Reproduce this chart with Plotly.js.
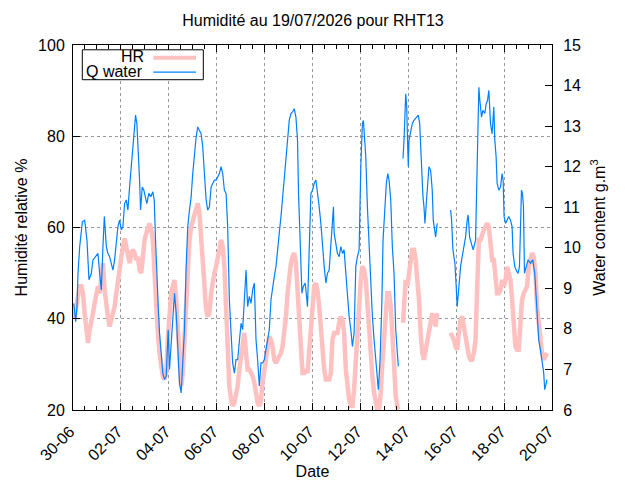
<!DOCTYPE html>
<html>
<head>
<meta charset="utf-8">
<script src="https://cdn.plot.ly/plotly-3.0.1.min.js"></script>
<style>html,body{margin:0;padding:0;background:#fff;}#chart{width:640px;height:480px;}</style>
</head>
<body>
<div id="chart"></div>
<script>
// Hours since 30-06-2026 00:00 and values
const hrHours = [0.0,1.7,3.4,5.0,6.7,8.4,10.0,11.7,13.4,15.0,16.7,18.4,20.0,21.7,23.4,25.0,26.7,28.4,30.0,31.7,33.4,35.0,36.7,38.4,40.0,41.7,43.4,45.0,46.7,48.4,50.0,51.7,53.4,55.0,56.7,58.4,60.0,61.7,63.4,65.0,66.7,68.4,70.0,71.7,73.4,75.0,76.7,78.4,80.0,81.7,83.4,85.0,86.7,88.4,90.0,91.7,93.4,95.0,96.7,98.4,100.0,101.7,103.4,105.0,106.7,108.4,110.0,111.7,113.4,115.0,116.7,118.4,120.0,121.7,123.4,125.0,126.7,128.4,130.0,131.7,133.4,135.0,136.7,138.4,140.0,141.7,143.4,145.0,146.7,148.4,150.0,151.7,153.4,155.0,156.7,158.4,160.0,161.7,163.4,165.0,166.7,168.4,170.0,171.7,173.4,175.0,176.7,178.4,180.0,181.7,183.4,185.0,186.7,188.4,190.0,191.7,193.4,195.0,196.7,198.4,200.0,201.7,203.4,205.0,206.7,208.4,210.0,211.7,213.4,215.0,216.7,218.4,220.0,221.7,223.4,225.0,226.7,228.4,230.0,231.7,233.4,235.0,236.7,238.4,240.0,241.7,243.4,245.0,246.7,248.4,250.0,251.7,253.4,255.0,256.7,258.4,260.0,261.7,263.4,265.0,266.7,268.4,270.0,271.7,273.4,275.0,276.7,278.4,280.0,281.7,283.4,285.0,286.7,288.4,290.0,291.7,293.4,295.0,296.7,298.4,300.0,301.7,303.4,305.0,306.7,308.4,310.0,311.7,313.4,315.0,316.7,318.4,320.0,321.7,323.4,325.0,326.0,328.0,330.7,331.7,333.4,335.0,336.7,338.4,340.0,341.7,343.4,345.0,346.7,348.4,350.0,351.7,353.4,355.0,356.7,358.4,360.0,361.7,363.4,365.0,370.0,378.4,380.0,381.7,383.4,385.0,386.7,388.4,390.0,391.7,393.4,395.0,396.7,398.4,400.0,401.7,403.4,404.4,405.4,406.7,408.4,410.0,411.7,413.4,415.0,416.7,418.4,420.0,421.7,423.4,425.0,426.7,428.4,430.0,431.7,433.4,435.0,436.7,438.4,440.0,441.7,443.4,445.0,446.7,448.4,450.0,451.7,453.4,455.0,456.7,458.4,460.0,461.7,463.4,465.0,466.7,468.4,470.0,471.7,473.4,475.0];
const hrValues = [40.5,40.5,42.7,45.6,47.1,47.1,45.6,41.2,36.9,34.7,37.6,39.1,41.2,43.4,45.6,47.1,45.6,48.5,52.2,46.3,42.7,40.5,38.3,39.8,40.5,42.7,45.6,49.3,50.7,53.6,56.5,57.6,55.8,53.6,52.2,54.4,55.1,54.4,52.9,53.6,50.7,50.0,55.1,57.3,58.7,60.2,60.9,59.5,57.3,50.0,41.2,36.9,32.5,28.8,27.4,26.7,28.1,35.4,41.2,45.6,47.1,48.5,44.2,36.9,29.6,25.2,28.1,35.4,44.2,52.9,57.3,60.2,61.6,63.1,64.6,65.3,63.1,58.0,51.5,45.6,42.0,40.5,41.2,45.6,48.5,50.0,51.5,52.9,55.1,57.3,55.8,51.5,42.7,31.0,25.2,22.3,20.9,21.6,23.8,25.2,28.9,31.8,35.4,36.9,32.5,28.9,28.9,28.1,27.4,26.0,23.8,21.6,20.9,22.3,26.0,28.9,31.0,33.9,36.1,35.4,33.9,31.0,30.3,31.0,31.8,32.5,33.9,36.9,40.5,45.6,50.0,52.2,53.6,54.4,52.2,46.3,37.6,31.0,28.1,28.1,28.9,28.1,33.9,39.1,44.2,47.1,47.8,46.3,42.7,36.9,31.8,28.9,26.7,26.7,26.7,28.1,35.4,36.9,36.9,36.9,39.1,40.5,39.8,36.9,28.9,24.5,22.3,20.9,20.9,24.5,31.0,36.9,43.4,48.5,51.5,50.7,48.5,42.7,36.9,32.5,27.4,23.8,20.9,20.1,20.1,23.8,30.3,35.4,40.5,45.6,45.6,42.7,36.9,28.1,23.0,20.9,20.1,null,39.1,42.7,48.5,47.1,50.0,53.6,55.1,55.1,52.9,48.5,44.2,36.9,32.5,31.0,33.2,35.4,37.6,39.8,41.2,39.8,38.3,41.2,null,36.9,36.1,35.4,33.9,33.2,36.9,39.8,40.5,38.3,35.4,33.9,31.8,31.0,31.0,32.5,35.4,42.7,50.0,57.3,57.3,58.7,59.5,60.2,60.9,60.2,57.3,52.9,52.9,50.0,45.6,45.6,46.3,48.5,47.1,48.5,51.4,50.0,48.5,44.2,38.3,33.9,33.2,33.2,39.1,44.2,45.6,46.3,47.1,51.4,53.6,54.4,53.6,50.0,42.7,38.3,35.4,32.5,31.0,31.8,32.5];

const qHours = [0.7,2.7,4.0,5.0,6.7,9.4,11.7,14.0,16.0,18.4,20.0,22.7,25.0,26.7,28.4,30.0,31.4,33.4,35.0,36.7,38.4,40.0,41.7,43.4,45.0,46.7,48.4,50.0,51.7,53.4,55.0,56.7,58.4,60.0,61.7,62.7,64.0,65.4,66.7,67.7,69.4,71.0,72.7,74.0,76.0,78.0,80.0,81.4,82.7,84.0,85.4,86.7,88.4,90.0,91.7,93.4,94.4,95.4,96.7,98.4,100.0,101.7,103.4,105.0,106.7,108.4,110.0,111.7,113.4,115.0,116.7,118.4,120.0,121.7,123.4,125.0,126.7,128.4,130.0,131.7,133.4,135.0,136.7,138.4,140.0,141.7,143.4,145.0,146.7,148.4,150.0,151.7,153.4,155.0,156.7,158.4,160.0,161.7,163.4,165.0,166.7,168.4,170.0,171.7,173.4,175.0,176.7,178.4,180.0,181.7,183.4,185.0,186.7,188.4,190.0,191.7,193.4,195.0,196.7,198.4,200.0,201.7,203.4,205.0,206.7,208.4,210.0,211.7,213.4,215.0,216.7,218.4,220.0,221.7,223.4,225.0,226.0,227.4,228.4,229.4,230.7,232.7,235.0,236.0,237.4,238.4,240.0,241.7,243.4,245.0,246.7,248.4,250.0,251.7,253.4,255.0,256.7,258.4,260.0,261.0,261.7,263.4,265.0,266.7,268.4,270.0,271.7,273.4,275.0,276.7,278.4,280.0,281.7,283.4,285.0,286.7,288.4,290.0,291.0,292.4,293.4,295.0,296.7,298.4,300.0,301.7,303.4,305.0,306.0,307.7,309.4,310.7,312.7,314.0,315.4,316.7,318.4,320.0,321.7,323.4,325.0,326.0,328.0,330.7,331.7,333.4,334.4,335.4,336.0,336.7,338.4,340.0,341.7,344.0,346.0,347.4,348.4,349.4,350.7,351.7,352.7,354.0,355.4,356.7,358.4,360.0,361.0,362.4,363.4,365.0,370.0,378.4,379.4,380.7,382.7,384.0,385.0,386.7,388.4,390.0,391.7,393.4,395.0,396.0,397.4,399.4,401.0,403.4,405.0,406.0,406.7,407.7,409.4,410.7,412.7,414.0,415.4,416.7,418.4,420.0,421.7,422.7,424.0,425.0,426.7,428.4,430.0,431.0,432.0,433.4,435.0,436.7,438.4,440.0,441.0,442.7,444.0,446.0,447.4,448.7,449.4,450.4,451.4,452.4,454.0,456.0,458.4,460.7,462.7,464.0,465.4,466.7,468.4,470.0,471.7,472.7,474.0,475.0];
const qValues = [8.63,8.18,8.55,9.37,10.03,10.64,10.68,10.19,9.21,9.37,9.70,9.78,9.86,9.37,8.96,10.03,10.77,10.03,9.86,9.78,9.62,9.45,9.70,10.19,10.52,10.68,10.44,10.52,11.09,11.18,10.93,11.50,12.00,12.57,12.98,13.27,13.06,12.41,11.67,10.93,11.50,11.42,11.26,11.09,11.34,11.26,11.38,11.18,10.19,9.21,8.55,7.90,7.24,6.91,6.75,6.83,7.41,7.98,7.00,7.73,8.31,8.88,8.39,7.57,6.67,6.42,7.24,7.98,9.54,10.52,10.93,11.26,11.83,12.41,12.73,12.98,12.90,12.81,12.49,11.83,11.18,10.93,11.01,11.50,11.59,11.67,11.67,11.75,11.83,12.00,11.83,11.42,11.34,10.52,8.72,7.90,7.16,6.91,7.24,7.24,7.81,8.14,7.98,8.88,9.45,8.55,8.80,8.63,8.96,9.13,7.73,7.24,6.59,7.16,7.16,7.24,7.49,7.65,7.98,8.72,9.04,9.29,9.54,10.03,10.36,10.77,11.18,11.67,12.08,12.65,13.14,13.31,13.35,13.43,13.22,12.65,11.34,10.19,9.37,8.88,9.04,9.13,8.55,9.37,10.68,11.34,11.42,11.59,11.67,11.26,11.01,10.60,10.03,9.54,9.13,9.37,9.45,10.11,10.52,11.01,10.36,10.11,9.86,9.78,10.03,9.86,9.95,9.37,8.72,8.31,7.98,7.57,7.90,9.54,9.78,9.95,12.00,13.06,13.14,12.65,12.24,11.01,10.03,9.37,8.31,7.73,7.24,6.75,6.50,7.24,8.55,10.19,11.01,11.59,11.83,11.67,11.18,10.03,9.37,7.98,7.41,7.08,null,12.20,12.65,13.80,13.47,12.49,12.00,12.65,12.90,13.06,13.14,13.22,13.27,13.06,12.57,11.75,11.26,11.01,10.60,11.09,11.67,12.00,11.91,11.42,10.68,10.36,10.27,10.60,null,10.93,10.68,9.95,9.62,9.04,8.55,9.04,9.54,9.78,10.03,10.27,10.68,10.81,10.27,10.11,9.95,10.19,12.08,13.22,13.96,13.63,13.22,13.39,13.31,13.55,13.63,13.88,13.06,12.81,13.47,12.65,12.24,11.59,11.42,11.50,11.83,11.67,10.77,10.60,10.68,10.77,10.68,10.52,9.86,9.54,9.45,9.37,9.54,11.01,11.42,11.34,11.01,9.37,9.54,9.70,9.62,9.70,9.37,8.88,8.14,7.73,7.49,7.24,6.91,6.50,6.67,6.75];

const xTickFormat = '%d-%m';
const seriesNames = ['HR', 'Q water'];

const START = Date.UTC(2026, 5, 30);
const toMs = h => START + h * 3600000;

const traces = [
  {x: hrHours.map(toMs), y: hrValues, name: seriesNames[0], type: 'scatter', mode: 'lines',
   line: {color: '#ffc0c0', width: 4.5}, yaxis: 'y', connectgaps: false, showlegend: false},
  {x: qHours.map(toMs), y: qValues, name: seriesNames[1], type: 'scatter', mode: 'lines',
   line: {color: '#0080ff', width: 1.2}, yaxis: 'y2', connectgaps: false, showlegend: false}
];

const FAM = '"Liberation Sans", Arial, sans-serif';
const f16 = {family: FAM, size: 16, color: '#000'};
const L = 73, R = 552, T = 44.5, B = 410.5;
const px = v => (v - L) / (R - L);
const py = v => 1 - (v - T) / (B - T);

const layout = {
  width: 640, height: 480,
  margin: {l: 73, r: 88, t: 44.5, b: 69.5, pad: 0},
  paper_bgcolor: '#fff', plot_bgcolor: '#fff',
  font: f16,
  showlegend: false,
  title: {text: 'Humidité au 19/07/2026 pour RHT13', x: 0.489, xanchor: 'center', y: 0.957, yanchor: 'middle', font: f16},
  xaxis: {
    type: 'date', range: [toMs(0), toMs(480)], tickformat: xTickFormat,
    tick0: toMs(0), dtick: 2 * 86400000, tickangle: -45, ticklabelstandoff: 5, ticklabelshift: -3,
    ticks: 'inside', ticklen: 7, tickcolor: '#000', showline: true, linecolor: '#000', linewidth: 1,
    mirror: 'ticks', showgrid: true, gridcolor: '#999', griddash: 'dot', gridwidth: 1, zeroline: false,
    minor: {dtick: 43200000, tick0: toMs(0), ticks: 'inside', ticklen: 4, tickcolor: '#000', showgrid: false},
    tickfont: f16,
    title: {text: 'Date', font: f16, standoff: 0},
    automargin: false
  },
  yaxis: {
    range: [20, 100], dtick: 20, tick0: 20, ticklabelstandoff: 4,
    ticks: 'inside', ticklen: 7, tickcolor: '#000', showline: true, linecolor: '#000', linewidth: 1,
    mirror: true, showgrid: true, gridcolor: '#999', griddash: 'dot', gridwidth: 1, zeroline: false,
    tickfont: f16,
    title: {text: 'Humidité relative %', font: f16, standoff: 6},
    automargin: false
  },
  yaxis2: {
    range: [6, 15], dtick: 1, tick0: 6, overlaying: 'y', side: 'right', ticklabelstandoff: 7,
    ticks: 'inside', ticklen: 7, tickcolor: '#000', showline: true, linecolor: '#000', linewidth: 1,
    showgrid: false, zeroline: false,
    tickfont: f16,
    title: {text: 'Water content g.m<sup>3</sup>', font: f16, standoff: 13},
    automargin: false
  },
  shapes: [
    {type: 'rect', xref: 'paper', yref: 'paper', x0: px(82.3), x1: px(203.3), y0: py(79.3), y1: py(49.3),
     line: {color: '#000', width: 1}, fillcolor: '#fff', layer: 'above'},
    {type: 'line', xref: 'paper', yref: 'paper', x0: px(153.3), x1: px(196), y0: py(57.3), y1: py(57.3),
     line: {color: '#ffc0c0', width: 4}, layer: 'above'},
    {type: 'line', xref: 'paper', yref: 'paper', x0: px(153.3), x1: px(196), y0: py(71.7), y1: py(71.7),
     line: {color: '#0080ff', width: 1.2}, layer: 'above'}
  ],
  annotations: [
    {xref: 'paper', yref: 'paper', x: px(146), y: py(56), xanchor: 'right', yanchor: 'middle', showarrow: false,
     text: seriesNames[0], font: f16},
    {xref: 'paper', yref: 'paper', x: px(144.5), y: py(71), xanchor: 'right', yanchor: 'middle', showarrow: false,
     text: seriesNames[1], font: f16}
  ]
};

Plotly.newPlot('chart', traces, layout, {staticPlot: true, displayModeBar: false});
</script>
</body>
</html>
